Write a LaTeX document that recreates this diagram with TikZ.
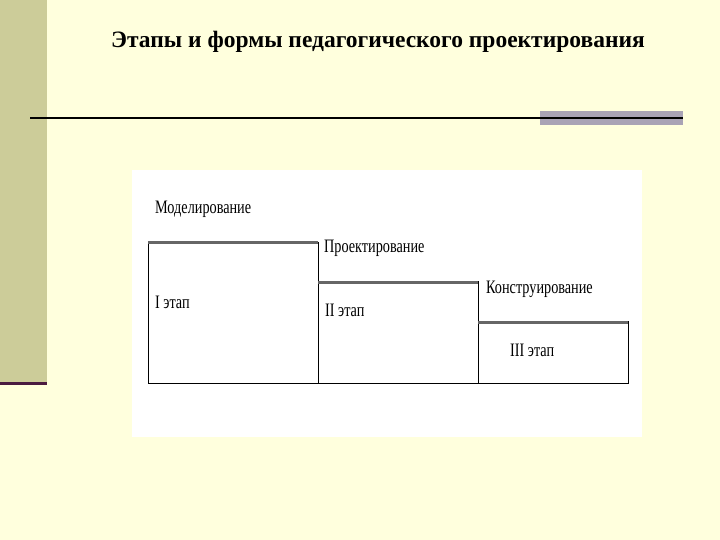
\documentclass[tikz,border=0pt]{standalone}
\usepackage{fontspec}
\setmainfont{Liberation Serif}
\definecolor{bg}{HTML}{FFFFDD}
\definecolor{band}{HTML}{CCCC99}
\definecolor{deep}{HTML}{4A1A40}
\definecolor{bar}{HTML}{A9A3B5}
\definecolor{edge}{HTML}{666666}
\begin{document}
\begin{tikzpicture}[x=1pt,y=-1pt,
  lbl/.style={anchor=west,inner sep=0pt,font=\fontsize{19}{22}\selectfont,xscale=0.75},
  stagebox/.style={draw=black,line width=1pt,fill=white},
  topedge/.style={draw=edge,line width=3pt}]
\useasboundingbox (0,0) rectangle (720,540);
\fill[bg] (0,0) rectangle (720,540);
\fill[band] (0,0) rectangle (47,383);
\draw[deep,line width=3pt] (0,383) -- (47,383);
\fill[bar] (540,111) rectangle (683,125);
\coordinate (l1) at (30,118);
\coordinate (l2) at (683,118);
\draw[black,line width=1.8pt] (l1) -- (l2);
\node[font=\bfseries\fontsize{23.5}{27}\selectfont] (title) at (378,42) {Этапы и формы педагогического проектирования};
\fill[white] (132,170) rectangle (642,437);
\draw[stagebox] (148,242) rectangle (318,383);
\draw[stagebox] (318,281) rectangle (478,383);
\draw[stagebox] (478,321) rectangle (628,383);
\draw[topedge] (148,242) -- (318,242);
\draw[topedge] (318,282) -- (478,282);
\draw[topedge] (478,322) -- (628,322);
\node[lbl] (m) at (155,209) {Моделирование};
\node[lbl] (p) at (324,248) {Проектирование};
\node[lbl] (k) at (486,289) {Конструирование};
\node[lbl] (s1) at (155,302) {I этап};
\node[lbl] (s2) at (325,310) {II этап};
\node[lbl] (s3) at (510,350) {III этап};
\end{tikzpicture}
\end{document}
